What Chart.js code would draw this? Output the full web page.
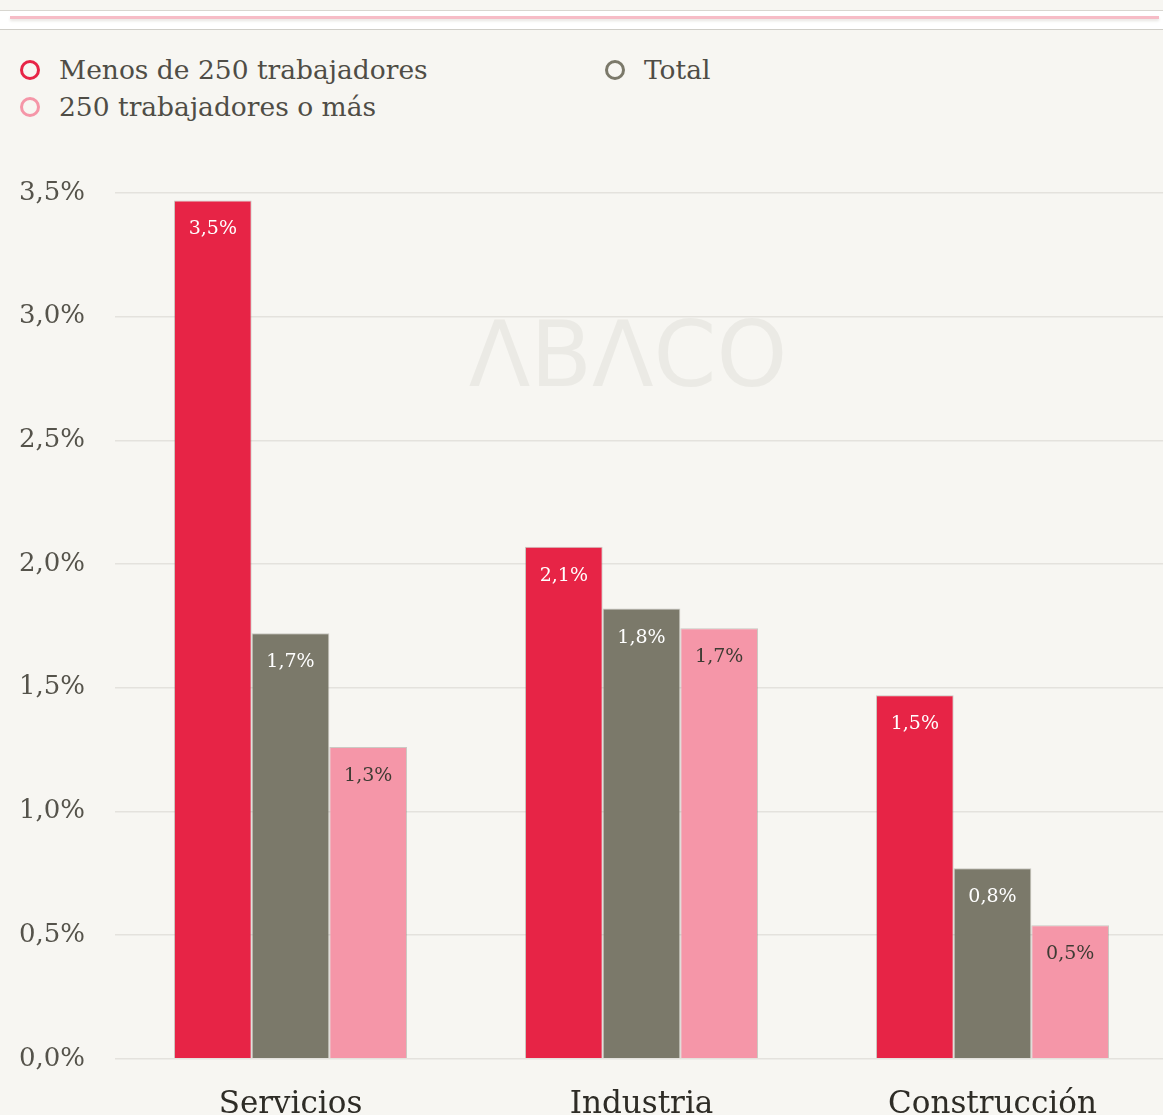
<!DOCTYPE html>
<html>
<head>
<meta charset="utf-8">
<script src="https://cdn.jsdelivr.net/npm/chart.js@4.4.1/dist/chart.umd.min.js"></script>
<style>
  html, body { margin: 0; padding: 0; background: #f7f6f2; overflow: hidden; width: 1163px; height: 1115px; }
  #topbar { position: absolute; left: 0; top: 10px; width: 1163px; height: 18px; background: #fff;
            border-top: 1px solid #d8d6d0; border-bottom: 1px solid #cfcdc7; }
  #topbar div { position: absolute; left: 10px; right: 4px; top: 5px; height: 3px; background: #f6bcc6;
                box-shadow: 0 2px 3px #e6e4e0; }
  #legend { position: absolute; left: 20px; top: 54px; width: 1000px; font-family: "DejaVu Serif", serif;
            font-size: 26.5px; color: #4f4d46; }
  .item { position: absolute; display: flex; align-items: center; white-space: nowrap; }
  .dot { width: 14px; height: 14px; border-radius: 50%; border: 3.5px solid; margin-right: 19px; }
  #wrap { position: absolute; left: 0; top: 130px; width: 1170px; height: 1014px; }
</style>
</head>
<body>
<div id="topbar"><div></div></div>
<div id="legend"></div>
<div id="wrap"><canvas id="c"></canvas></div>
<script>
const categories = ['Servicios', 'Industria', 'Construcción'];
const seriesNames = ['Menos de 250 trabajadores', 'Total', '250 trabajadores o más'];
const seriesColors = ['#e72446', '#7b796a', '#f596a8'];
const labelColors = ['#ffffff', '#ffffff', '#3d3b33'];
const menos250 = [3.47, 2.07, 1.47];
const total = [1.72, 1.82, 0.77];
const mas250 = [1.26, 1.74, 0.54];
const yTicks = [0, 0.5, 1, 1.5, 2, 2.5, 3, 3.5];

const serif = '"DejaVu Serif", serif';
const fmt = v => v.toFixed(1).replace('.', ',') + '%';

// legend laid out in two columns like the original
const legendPos = [[0, 0], [585, 0], [0, 37]];
const legend = document.getElementById('legend');
seriesNames.forEach((name, i) => {
  const el = document.createElement('div');
  el.className = 'item';
  el.style.left = legendPos[i][0] + 'px';
  el.style.top = legendPos[i][1] + 'px';
  el.innerHTML = '<span class="dot" style="border-color:' + seriesColors[i] + '"></span>' + name;
  legend.appendChild(el);
});

const watermark = {
  id: 'watermark',
  beforeDatasetsDraw(chart) {
    const ctx = chart.ctx;
    ctx.save();
    ctx.fillStyle = '#ebeae5';
    ctx.font = '90px "DejaVu Sans", sans-serif';
    ctx.textAlign = 'center';
    ctx.textBaseline = 'middle';
    ctx.fillText('ΛBΛCO', 628, 233);
    ctx.restore();
  }
};

const barLabels = {
  id: 'barLabels',
  afterDatasetsDraw(chart) {
    const ctx = chart.ctx;
    ctx.save();
    ctx.font = '19px ' + serif;
    ctx.textAlign = 'center';
    ctx.textBaseline = 'middle';
    chart.data.datasets.forEach((ds, i) => {
      chart.getDatasetMeta(i).data.forEach((bar, j) => {
        ctx.fillStyle = labelColors[i];
        ctx.fillText(fmt(ds.data[j]), bar.x, bar.y + 29);
      });
    });
    ctx.restore();
  }
};

const datasets = [menos250, total, mas250].map((d, i) => ({
  label: seriesNames[i],
  data: d,
  backgroundColor: seriesColors[i],
  borderColor: 'rgba(120,118,110,0.35)',
  borderWidth: 1,
  barPercentage: 1,
  categoryPercentage: 0.664
}));

new Chart(document.getElementById('c'), {
  type: 'bar',
  data: { labels: categories, datasets: datasets },
  options: {
    responsive: true,
    maintainAspectRatio: false,
    animation: false,
    layout: { padding: { left: 19, right: 2, top: 63, bottom: 0 } },
    plugins: { legend: { display: false }, tooltip: { enabled: false } },
    scales: {
      x: {
        grid: { display: false },
        border: { display: false },
        ticks: { color: '#2e2c26', font: { family: serif, size: 31 }, padding: 20 }
      },
      y: {
        min: 0,
        max: 3.5,
        afterBuildTicks(axis) { axis.ticks = yTicks.map(v => ({ value: v })); },
        afterFit(axis) { axis.width = 96; },
        grid: { color: '#e4e2dd', lineWidth: 1.5, drawTicks: false },
        border: { display: false },
        ticks: { color: '#55534b', font: { family: serif, size: 26 }, padding: 30, callback: v => fmt(v) }
      }
    }
  },
  plugins: [watermark, barLabels]
});
</script>
</body>
</html>
